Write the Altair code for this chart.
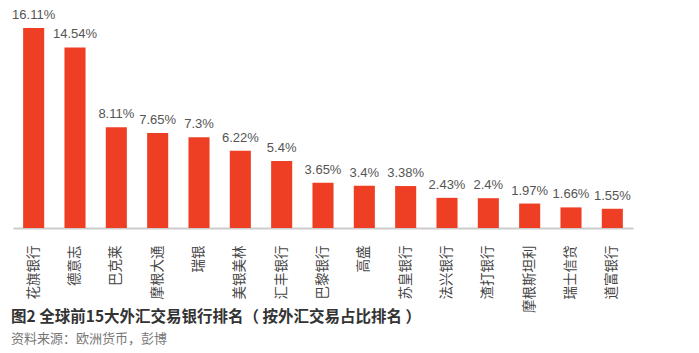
import altair as alt
import pandas as pd

banks = ["花旗银行", "德意志", "巴克莱", "摩根大通", "瑞银", "美银美林", "汇丰银行", "巴黎银行",
         "高盛", "苏皇银行", "法兴银行", "渣打银行", "摩根斯坦利", "瑞士信贷", "道富银行"]
shares = [16.11, 14.54, 8.11, 7.65, 7.3, 6.22, 5.4, 3.65, 3.4, 3.38, 2.43, 2.4, 1.97, 1.66, 1.55]
labels = ["16.11%", "14.54%", "8.11%", "7.65%", "7.3%", "6.22%", "5.4%", "3.65%", "3.4%",
          "3.38%", "2.43%", "2.4%", "1.97%", "1.66%", "1.55%"]

df = pd.DataFrame({"bank": banks, "share": shares, "label": labels})

x = alt.X("bank:N", sort=banks, title=None,
          scale=alt.Scale(paddingInner=0.49, paddingOuter=0.245),
          axis=alt.Axis(labelAngle=-90, labelFont="Noto Sans CJK SC", labelFontSize=13.5,
                        labelColor="#444444", labelPadding=17, ticks=False,
                        domainColor="#cccccc", domainWidth=2, labelBaseline="middle"))
y = alt.Y("share:Q", title=None, scale=alt.Scale(domain=[0, 16.11], nice=False),
          axis=None)

bars = alt.Chart(df).mark_bar(color="#ee3f24").encode(x=x, y=y)
text = alt.Chart(df).mark_text(dy=-6, baseline="bottom", font="Liberation Sans",
                               fontSize=13, color="#555555").encode(x=x, y=y, text="label:N")

chart = (bars + text).properties(
    width=620, height=200,
    padding={"left": 13, "top": 28, "right": 66, "bottom": 125},
    autosize=alt.AutoSizeParams(type="none"),
    background="white",
    title=alt.TitleParams(
        text="图2 全球前15大外汇交易银行排名（ 按外汇交易占比排名 ）",
        subtitle="资料来源：欧洲货币，彭博",
        orient="bottom", anchor="start", frame="bounds",
        font="Noto Sans CJK SC", fontSize=15.5, fontWeight="bold", color="#333333",
        subtitleFont="Noto Sans CJK SC", subtitleFontSize=13, subtitleColor="#777777",
        subtitlePadding=7, offset=-2, dx=-1,
    ),
).configure_view(stroke="transparent", strokeWidth=0)

chart.save("out.html", embed_options={"renderer": "svg", "actions": False})
